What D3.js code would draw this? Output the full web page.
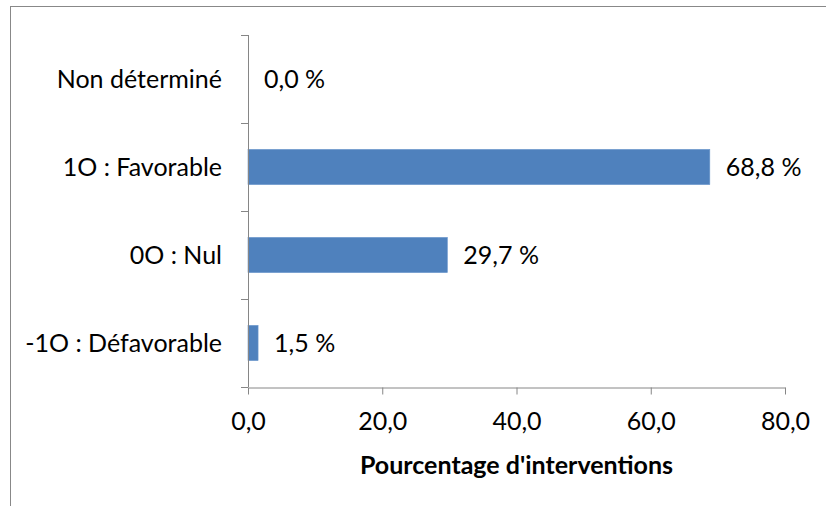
<!DOCTYPE html>
<html>
<head>
<meta charset="utf-8">
<script src="https://cdn.jsdelivr.net/npm/d3@7"></script>
<style>
  body { margin: 0; background: #fff; }
  text { font-family: Lato, "Open Sans", sans-serif; fill: #000; }
</style>
</head>
<body>
<svg width="826" height="506"></svg>
<script>
// categories, top to bottom
var categories = ["Non déterminé", "1O : Favorable", "0O : Nul", "-1O : Défavorable"];
var values = [0.0, 68.8, 29.7, 1.5];
var xTicks = [0, 20, 40, 60, 80];
var xTitle = "Pourcentage d'interventions";

var svg = d3.select("svg");
var fontSize = "25px";

// chart frame
svg.append("rect")
    .attr("x", 10.5).attr("y", 6.5)
    .attr("width", 830).attr("height", 520)
    .attr("fill", "none")
    .attr("stroke", "#888")
    .attr("stroke-width", 1);

var plotLeft = 248, plotRight = 785, plotTop = 35, plotBottom = 387;

var x = d3.scaleLinear().domain([0, 80]).range([plotLeft, plotRight]);
var y = d3.scaleBand().domain(categories).range([plotTop, plotBottom]).paddingInner(0.6).paddingOuter(0.3);

var fmt = function (v) { return d3.format(".1f")(v).replace(".", ","); };

// bars
svg.append("g").selectAll("rect")
    .data(values)
    .enter().append("rect")
    .attr("x", x(0))
    .attr("y", function (d, i) { return y(categories[i]); })
    .attr("width", function (d) { return x(d) - x(0); })
    .attr("height", y.bandwidth())
    .attr("fill", "#4f81bd")
    .attr("stroke", "#6b96cc")
    .attr("stroke-width", 0.6);

// value labels
svg.append("g").selectAll("text")
    .data(values)
    .enter().append("text")
    .attr("x", function (d) { return x(d) + 16; })
    .attr("y", function (d, i) { return y(categories[i]) + y.bandwidth() / 2; })
    .attr("dy", "0.35em")
    .style("font-size", fontSize)
    .text(function (d) { return fmt(d) + " %"; });

// y axis (ticks between categories)
var yAxis = svg.append("g");
yAxis.append("line")
    .attr("x1", plotLeft + 0.5).attr("x2", plotLeft + 0.5)
    .attr("y1", plotTop).attr("y2", plotBottom)
    .attr("stroke", "#868686");
var step = (plotBottom - plotTop) / categories.length;
yAxis.selectAll(".tk")
    .data(d3.range(categories.length + 1))
    .enter().append("line")
    .attr("x1", plotLeft - 7).attr("x2", plotLeft)
    .attr("y1", function (i) { return Math.round(plotTop + i * step) + 0.5; })
    .attr("y2", function (i) { return Math.round(plotTop + i * step) + 0.5; })
    .attr("stroke", "#868686");
yAxis.selectAll("text")
    .data(categories)
    .enter().append("text")
    .attr("x", plotLeft - 26)
    .attr("y", function (d) { return y(d) + y.bandwidth() / 2; })
    .attr("dy", "0.35em")
    .attr("text-anchor", "end")
    .style("font-size", fontSize)
    .text(function (d) { return d; });

// x axis
var xAxis = svg.append("g")
    .attr("transform", "translate(0," + (plotBottom + 0.5) + ")")
    .call(d3.axisBottom(x).tickValues(xTicks).tickSize(7).tickSizeOuter(0).tickPadding(18).tickFormat(fmt));
xAxis.attr("font-family", null).attr("font-size", null);
xAxis.select(".domain").attr("stroke", "#868686");
xAxis.selectAll(".tick line").attr("stroke", "#868686");
xAxis.selectAll("text").style("font-size", fontSize).attr("fill", "#000");

svg.append("text")
    .attr("x", (plotLeft + plotRight) / 2)
    .attr("y", 474)
    .attr("text-anchor", "middle")
    .style("font-size", fontSize)
    .style("font-weight", "bold")
    .text(xTitle);
</script>
</body>
</html>
